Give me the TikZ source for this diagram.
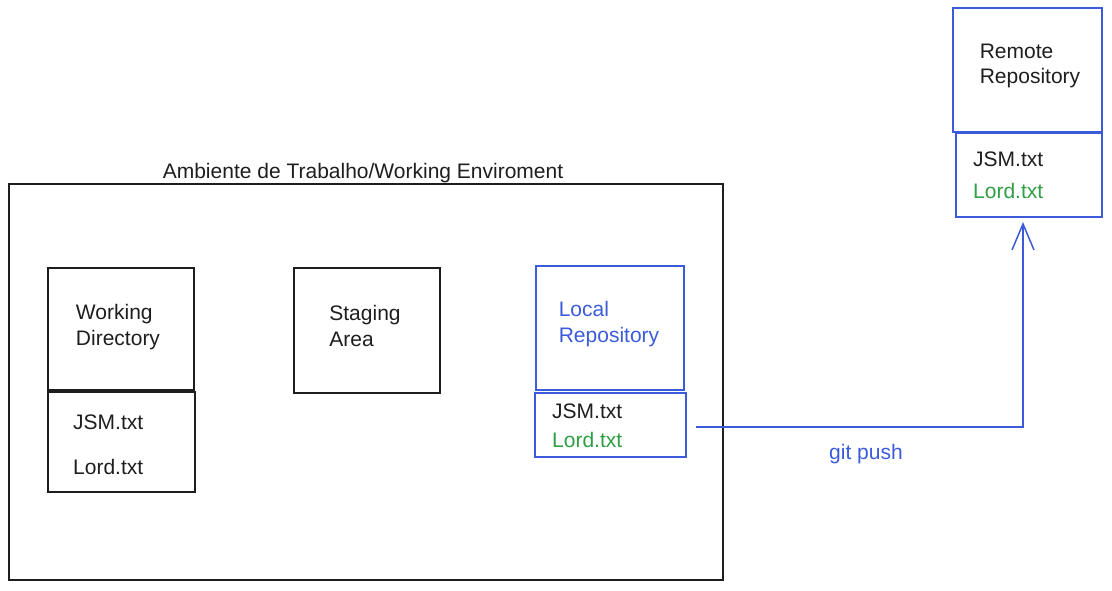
\documentclass[tikz,border=0pt]{standalone}
\usepackage{fontspec}
\setmainfont{Liberation Sans}
\usetikzlibrary{arrows.meta}
\definecolor{ink}{HTML}{1E1E1E}
\definecolor{xblue}{HTML}{3B5BDB}
\definecolor{xgreen}{HTML}{2F9E44}
\tikzset{
  box/.style={draw=ink, line width=1.6pt, inner sep=0pt},
  bbox/.style={draw=xblue, line width=1.5pt, inner sep=0pt},
  lbl/.style={font=\fontsize{21}{25.5}\selectfont, align=left, text=ink, inner sep=0pt},
  file/.style={font=\fontsize{21}{25}\selectfont, anchor=west, text=ink, inner sep=0pt},
  conn/.style={draw=xblue, line width=1.5pt, -{Straight Barb[length=26pt,width=22pt,line width=1.5pt]}}
}
\begin{document}
\begin{tikzpicture}[x=1pt,y=-1pt]
\useasboundingbox (0,0) rectangle (1112,591);
% outer working environment
\node[box, minimum width=714pt, minimum height=396pt] (env) at (366,382) {};
\node[lbl] (envt) at (363,173) {Ambiente de Trabalho/Working Enviroment};
% working directory
\node[box, minimum width=146pt, minimum height=122pt] (wd) at (121,329) {};
\node[lbl] (wdt) at (118,327) {Working\\Directory};
\node[box, minimum width=147pt, minimum height=100pt] (wdf) at (121.5,442) {};
\node[file] (wdj) at (73,422) {JSM.txt};
\node[file] (wdl) at (73,467) {Lord.txt};
% staging area
\node[box, minimum width=146pt, minimum height=125pt] (sa) at (367,330.5) {};
\node[lbl] (sat) at (365,326) {Staging\\Area};
% local repository
\node[bbox, minimum width=148pt, minimum height=124pt] (lr) at (610,328) {};
\node[lbl, text=xblue] (lrt) at (609,324) {Local\\Repository};
\node[bbox, minimum width=151pt, minimum height=64pt] (lrf) at (610.5,425) {};
\node[file] (lrj) at (552,411) {JSM.txt};
\node[file, text=xgreen] (lrl) at (552,440) {Lord.txt};
% remote repository
\node[bbox, minimum width=149pt, minimum height=124pt] (rr) at (1027.5,70) {};
\node[lbl] (rrt) at (1030,66) {Remote\\Repository};
\node[bbox, minimum width=146pt, minimum height=84pt] (rrf) at (1029,175) {};
\node[file] (rrj) at (973,159) {JSM.txt};
\node[file, text=xgreen] (rrl) at (973,191) {Lord.txt};
% git push connector
\coordinate (ps) at (696,427);
\coordinate (tip) at (1023,222);
\draw[conn] (ps) -| (tip);
\node[lbl, text=xblue] (gp) at (866,454) {git push};
\end{tikzpicture}
\end{document}
